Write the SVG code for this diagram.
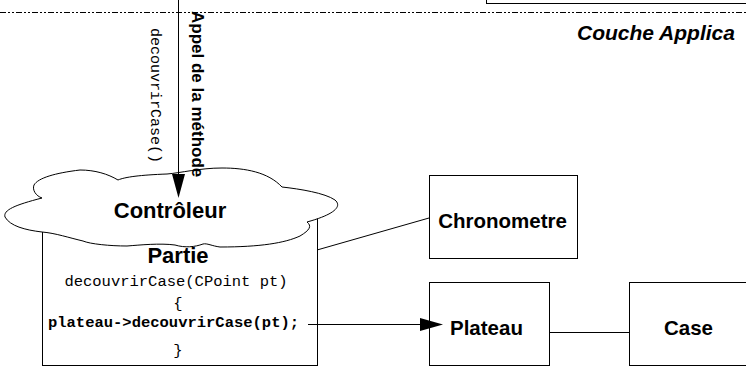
<svg xmlns="http://www.w3.org/2000/svg" width="746" height="367" viewBox="0 0 746 367">
  <style>
    .box { fill: #fff; stroke: #000; stroke-width: 1; }
    .line { fill: none; stroke: #000; stroke-width: 1; }
    .label { font-family: "Liberation Sans", Arial, sans-serif; font-weight: bold; fill: #000; }
    .code { font-family: "Liberation Mono", "Courier New", monospace; fill: #000; }
  </style>
  <rect width="746" height="367" fill="#fff"/>

  <!-- layer boundary -->
  <g id="layer">
    <rect class="box" x="486.5" y="-10" width="300" height="13.5"/>
    <line class="line" x1="0" y1="12.5" x2="746" y2="12.5" stroke-dasharray="6 2 2 2 2 2"/>
    <text class="label" x="577" y="40" font-size="21" font-style="italic">Couche Applica</text>
  </g>

  <!-- Partie object with its method body -->
  <g id="partie">
    <rect class="box" x="42.5" y="200" width="275" height="165.5"/>
  </g>

  <!-- Controleur cloud -->
  <g id="controleur">
    <path class="box" d="M42,198 C36,196 32,190 34,185 C38,178 55,173 80,170 C95,170 108,174 118,180 C125,177 140,175 167,174 C180,173 200,168 222,168 C245,168 268,172 282,187 C300,189 325,193 335,200 C342,206 336,214 307,222 C312,226 310,230 300,236 C285,243 260,247 220,247 C212,246 207,243 203,244 C195,247 185,248 175,245 C160,243 140,245 127,246 C110,246 90,244 83,241 C70,238 55,233 42,232 C25,230 10,226 5,217 C3,210 15,205 42,198 Z"/>
    <text class="label" x="170" y="218" font-size="22" text-anchor="middle">Contrôleur</text>
  </g>

  <g id="partie-text">
    <text class="label" x="178" y="263" font-size="22" text-anchor="middle">Partie</text>
    <text class="code" x="176" y="286" font-size="15.5" text-anchor="middle">decouvrirCase(CPoint pt)</text>
    <text class="code" x="178" y="308" font-size="15.5" text-anchor="middle">{</text>
    <text class="code" x="173.5" y="327" font-size="15.5" font-weight="bold" text-anchor="middle">plateau-&gt;decouvrirCase(pt);</text>
    <text class="code" x="178" y="355" font-size="15.5" text-anchor="middle">}</text>
  </g>

  <g id="chronometre">
    <rect class="box" x="429.5" y="175.5" width="148" height="83"/>
    <text class="label" x="502.5" y="228" font-size="20.5" text-anchor="middle">Chronometre</text>
  </g>

  <g id="plateau">
    <rect class="box" x="429.5" y="282.5" width="120" height="83"/>
    <text class="label" x="450" y="335" font-size="20.5">Plateau</text>
  </g>

  <g id="case">
    <rect class="box" x="629.5" y="282.5" width="140" height="83"/>
    <text class="label" x="664" y="335" font-size="20.5">Case</text>
  </g>

  <!-- connectors -->
  <g id="connectors">
    <line class="line" x1="178.5" y1="0" x2="178.5" y2="176"/>
    <polygon points="172,174 185,174 178.5,198" fill="#000"/>
    <line class="line" x1="317" y1="250" x2="429" y2="218"/>
    <line class="line" x1="308" y1="324.5" x2="422" y2="324.5"/>
    <polygon points="420,318 443,324.5 420,331" fill="#000"/>
    <line class="line" x1="549.5" y1="332.5" x2="629.5" y2="332.5"/>
  </g>

  <!-- call annotation -->
  <g id="call-labels">
    <text class="label" font-size="17" transform="translate(192,11) rotate(90)">Appel de la méthode</text>
    <text class="code" font-size="15" transform="translate(151,28) rotate(90)">decouvrirCase()</text>
  </g>
</svg>
